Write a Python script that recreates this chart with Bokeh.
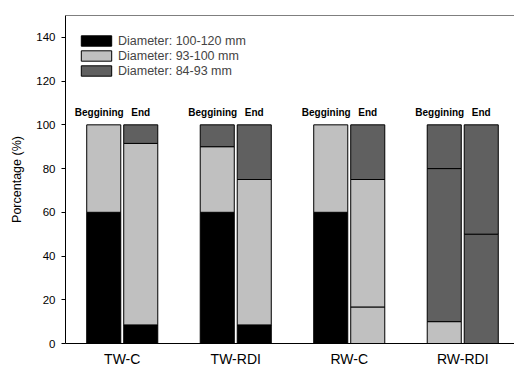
from bokeh.plotting import figure
from bokeh.models import ColumnDataSource, Range1d, FixedTicker, Legend, LegendItem, Span
from bokeh.core.properties import value
from bokeh.embed import file_html
from bokeh.resources import INLINE

# ---- data ----
groups = ["TW-C", "TW-RDI", "RW-C", "RW-RDI"]
stages = ["Beggining", "End"]
classes = ["100-120", "93-100", "84-93"]
class_labels = ["Diameter: 100-120 mm", "Diameter: 93-100 mm", "Diameter: 84-93 mm"]
# bar order: TW-C Beg, TW-C End, TW-RDI Beg, TW-RDI End, RW-C Beg, RW-C End, RW-RDI Beg, RW-RDI End
seg_bottom = [60, 8.5, 60, 8.5, 60, 16.7, 10, 50]
seg_middle = [40, 83, 30, 66.5, 40, 58.3, 70, 50]
seg_top = [0, 8.5, 10, 25, 0, 25, 20, 0]
class_bottom = ["100-120", "100-120", "100-120", "100-120", "100-120", "93-100", "93-100", "84-93"]
class_middle = ["93-100", "93-100", "93-100", "93-100", "93-100", "93-100", "84-93", "84-93"]
class_top = ["84-93"] * 8
y_ticks = [0, 20, 40, 60, 80, 100, 120, 140]

# ---- styles ----
colors = {"100-120": "#000000", "93-100": "#c0c0c0", "84-93": "#606060"}
FONT = "Liberation Sans"
OFF = 0.163
BW = 0.30

def bar_x(i):
    g, s = divmod(i, 2)
    return g + 0.5 + (OFF if s else -OFF)

rows = {c: dict(x=[], bottom=[], top=[]) for c in classes}
for i in range(len(seg_bottom)):
    cum = 0
    for heights, cls in ((seg_bottom, class_bottom), (seg_middle, class_middle), (seg_top, class_top)):
        h = heights[i]
        if h > 0:
            rows[cls[i]]["x"].append(bar_x(i))
            rows[cls[i]]["bottom"].append(cum)
            rows[cls[i]]["top"].append(cum + h)
            cum += h

p = figure(width=514, height=369, output_backend="svg", toolbar_location=None,
           x_range=Range1d(0, 3.956), y_range=Range1d(0, 150),
           min_border_left=65, min_border_right=0, min_border_top=15, min_border_bottom=26)
p.outline_line_color = None
p.xgrid.visible = False
p.ygrid.visible = False
p.background_fill_color = "white"
p.border_fill_color = "white"

renderers = {}
for c in classes:
    src = ColumnDataSource(rows[c])
    renderers[c] = p.vbar(x="x", bottom="bottom", top="top", width=BW, source=src,
                          fill_color=colors[c], line_color="black", line_width=1)

# stage labels above bars
lab_x, lab_t = [], []
for i in range(len(seg_bottom)):
    s = i % 2
    lab_x.append(bar_x(i) - (0.04 if s == 0 else 0))
    lab_t.append(stages[s])
p.text(x=lab_x, y=[105.5] * len(lab_x), text=lab_t, text_font=value(FONT),
       text_font_style="bold", text_font_size="10px", text_align="center",
       text_baseline="middle", text_color="black")

p.add_layout(Span(location=150, dimension="width", line_color="black", line_width=1))

# axes
p.xaxis.ticker = FixedTicker(ticks=[g + 0.5 for g in range(len(groups))])
p.xaxis.major_label_overrides = {g + 0.5: name for g, name in enumerate(groups)}
p.xaxis.major_tick_line_color = None
p.xaxis.minor_tick_line_color = None
p.xaxis.major_tick_out = 0
p.xaxis.major_label_standoff = 7
p.xaxis.major_label_text_font = FONT
p.xaxis.major_label_text_font_size = "14px"
p.xaxis.major_label_text_color = "black"
p.xaxis.axis_line_color = "black"

p.yaxis.ticker = FixedTicker(ticks=y_ticks)
p.yaxis.minor_tick_line_color = None
p.yaxis.major_tick_out = 4
p.yaxis.major_tick_in = 0
p.yaxis.major_label_standoff = 6
p.yaxis.major_label_text_font = FONT
p.yaxis.major_label_text_font_size = "11.5px"
p.yaxis.major_label_text_color = "black"
p.yaxis.axis_line_color = "black"
p.yaxis.axis_label = "Porcentage (%)"
p.yaxis.axis_label_text_font = FONT
p.yaxis.axis_label_text_font_size = "12.5px"
p.yaxis.axis_label_text_font_style = "normal"
p.yaxis.axis_label_text_color = "black"
p.yaxis.axis_label_standoff = 9

legend = Legend(items=[LegendItem(label=class_labels[k], renderers=[renderers[c]]) for k, c in enumerate(classes)],
                location=(12, 265), orientation="vertical",
                glyph_width=38, glyph_height=13, label_height=15, spacing=0,
                label_standoff=3, padding=0, margin=0,
                label_text_font=FONT, label_text_font_size="12.5px",
                border_line_color=None, background_fill_alpha=0)
p.add_layout(legend)

open("out.html", "w").write(file_html(p, INLINE))
